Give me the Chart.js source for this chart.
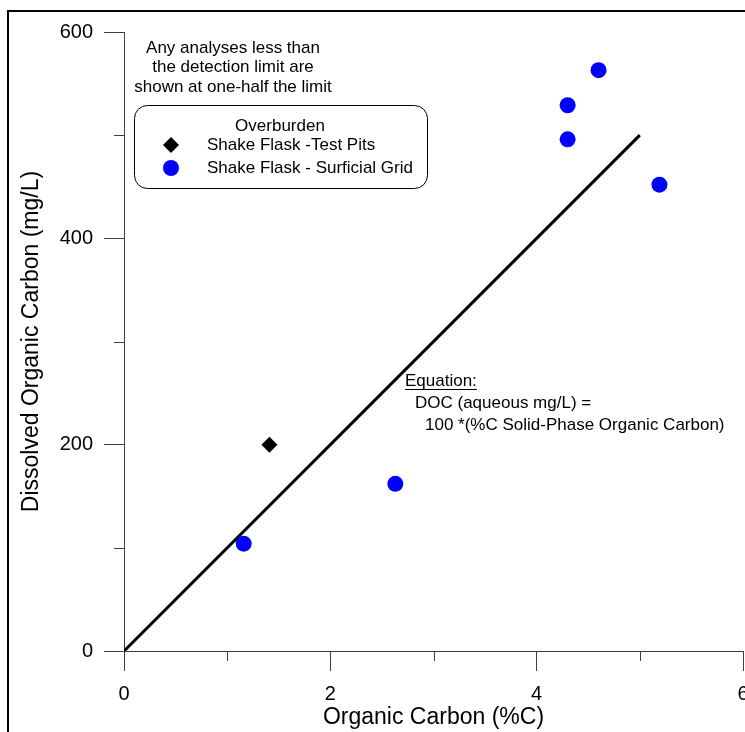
<!DOCTYPE html>
<html>
<head>
<meta charset="utf-8">
<script src="https://cdn.jsdelivr.net/npm/chart.js@4/dist/chart.umd.min.js"></script>
<style>
  html, body { margin: 0; padding: 0; background: #fff; overflow: hidden; }
  canvas { display: block; }
</style>
</head>
<body>
<!-- a few px wider than the window so the last x label runs off the right edge -->
<canvas id="docChart" width="751" height="732"></canvas>
<script>
// Overburden shake flask results: organic carbon (%C) vs dissolved organic carbon (mg/L)
const PIT_OC = [1.41];
const PIT_DOC = [200];
const GRID_OC = [1.16, 2.63, 4.3, 4.3, 4.6, 5.19];
const GRID_DOC = [104, 162, 496, 529, 563, 452];

// reference line DOC = 100 * %C
const LINE_OC = [0, 5];
const LINE_DOC = [0, 500];

// axis ticks
const X_TICKS = [0, 2, 4, 6];
const Y_TICKS = [0, 200, 400, 600];
const X_MINOR = [1, 3, 5];
const Y_MINOR = [100, 300, 500];

const NOTE_LINES = [
  "Any analyses less than",
  "the detection limit are",
  "shown at one-half the limit",
];
const EQUATION_LINES = [
  "DOC (aqueous mg/L) =",
  "100 *(%C Solid-Phase Organic Carbon)",
];

const FONT = '"Liberation Sans", Arial, Helvetica, sans-serif';
const AXIS_COLOR = "#404040";

function toPoints(xs, ys) {
  return xs.map((x, i) => ({ x, y: ys[i] }));
}

// ============== Plugins ==============

// page frame (left + top edge)
const framePlugin = {
  id: "frame",
  beforeDraw(chart) {
    const ctx = chart.ctx;
    ctx.save();
    ctx.strokeStyle = "#000";
    ctx.lineWidth = 2;
    ctx.beginPath();
    ctx.moveTo(8, chart.height);
    ctx.lineTo(8, 11);
    ctx.lineTo(chart.width, 11);
    ctx.stroke();
    ctx.restore();
  },
};

// short outward minor ticks
const minorTicksPlugin = {
  id: "minorTicks",
  afterDraw(chart) {
    const { ctx, scales, chartArea } = chart;
    ctx.save();
    ctx.strokeStyle = AXIS_COLOR;
    ctx.lineWidth = 1;
    ctx.beginPath();
    X_MINOR.forEach((v) => {
      const px = Math.round(scales.x.getPixelForValue(v)) + 0.5;
      ctx.moveTo(px, chartArea.bottom);
      ctx.lineTo(px, chartArea.bottom + 10);
    });
    Y_MINOR.forEach((v) => {
      const py = Math.round(scales.y.getPixelForValue(v)) + 0.5;
      ctx.moveTo(chartArea.left - 10, py);
      ctx.lineTo(chartArea.left, py);
    });
    ctx.stroke();
    ctx.restore();
  },
};

// note text, boxed legend, equation
const notesPlugin = {
  id: "notes",
  afterDraw(chart) {
    const ctx = chart.ctx;
    ctx.save();
    ctx.fillStyle = "#000";
    ctx.font = `17px ${FONT}`;
    ctx.textBaseline = "middle";
    ctx.textAlign = "center";
    NOTE_LINES.forEach((t, i) => ctx.fillText(t, 233, 48 + i * 19.5));

    // legend box
    ctx.beginPath();
    ctx.roundRect(134.5, 105.5, 293, 83, 13);
    ctx.lineWidth = 1;
    ctx.strokeStyle = "#000";
    ctx.stroke();
    ctx.fillText("Overburden", 280, 126);

    ctx.textAlign = "left";
    chart.data.datasets.slice(0, 2).forEach((ds, i) => {
      const y = 145 + i * 23;
      ctx.fillStyle = ds.backgroundColor;
      Chart.helpers.drawPoint(
        ctx,
        { pointStyle: ds.pointStyle, radius: 8, rotation: 0, borderWidth: 0 },
        171,
        y
      );
      ctx.fillStyle = "#000";
      ctx.fillText(ds.label, 207, y);
    });

    // equation
    const eqX = 405;
    ctx.fillText("Equation:", eqX, 381);
    const w = ctx.measureText("Equation:").width;
    ctx.fillRect(eqX, 389, w, 1);
    EQUATION_LINES.forEach((t, i) => ctx.fillText(t, eqX + 10 + i * 10, 403 + i * 22));
    ctx.restore();
  },
};

// ============== Chart ==============

new Chart(document.getElementById("docChart"), {
  type: "scatter",
  data: {
    datasets: [
      {
        label: "Shake Flask -Test Pits",
        data: toPoints(PIT_OC, PIT_DOC),
        pointStyle: "rectRot",
        pointRadius: 8,
        backgroundColor: "#000000",
        borderColor: "#000000",
        pointBorderWidth: 0,
      },
      {
        label: "Shake Flask - Surficial Grid",
        data: toPoints(GRID_OC, GRID_DOC),
        pointStyle: "circle",
        pointRadius: 8,
        backgroundColor: "#0000ff",
        borderColor: "#0000ff",
        pointBorderWidth: 0,
      },
      {
        type: "line",
        label: "DOC = 100 * %C",
        data: toPoints(LINE_OC, LINE_DOC),
        borderColor: "#000",
        borderWidth: 3,
        pointRadius: 0,
        fill: false,
        showLine: true,
      },
    ],
  },
  options: {
    responsive: false,
    animation: false,
    events: [],
    layout: { padding: { top: 32, right: 1, left: 0, bottom: 0 } },
    plugins: {
      legend: { display: false },
      tooltip: { enabled: false },
    },
    scales: {
      x: {
        type: "linear",
        min: 0,
        max: 6,
        afterBuildTicks: (scale) => {
          scale.ticks = X_TICKS.map((v) => ({ value: v }));
        },
        ticks: {
          padding: 11,
          color: "#000",
          font: { family: FONT, size: 20 },
        },
        grid: { drawOnChartArea: false, tickLength: 20, color: AXIS_COLOR },
        border: { color: AXIS_COLOR },
        title: {
          display: true,
          text: "Organic Carbon (%C)",
          color: "#000",
          font: { family: FONT, size: 23 },
          padding: { top: 0, bottom: 1 },
        },
        afterFit(scale) {
          scale.height = 81;
          scale.paddingLeft = 0;
          scale.paddingRight = 0;
        },
      },
      y: {
        type: "linear",
        min: 0,
        max: 600,
        afterBuildTicks: (scale) => {
          scale.ticks = Y_TICKS.map((v) => ({ value: v }));
        },
        ticks: {
          padding: 11,
          color: "#000",
          font: { family: FONT, size: 20 },
        },
        grid: { drawOnChartArea: false, tickLength: 20, color: AXIS_COLOR },
        border: { color: AXIS_COLOR },
        title: {
          display: true,
          text: "Dissolved Organic Carbon (mg/L)",
          color: "#000",
          font: { family: FONT, size: 23 },
          padding: { top: 18, bottom: 0 },
        },
        afterFit(scale) {
          scale.width = 124;
        },
      },
    },
  },
  plugins: [framePlugin, minorTicksPlugin, notesPlugin],
});
</script>
</body>
</html>
